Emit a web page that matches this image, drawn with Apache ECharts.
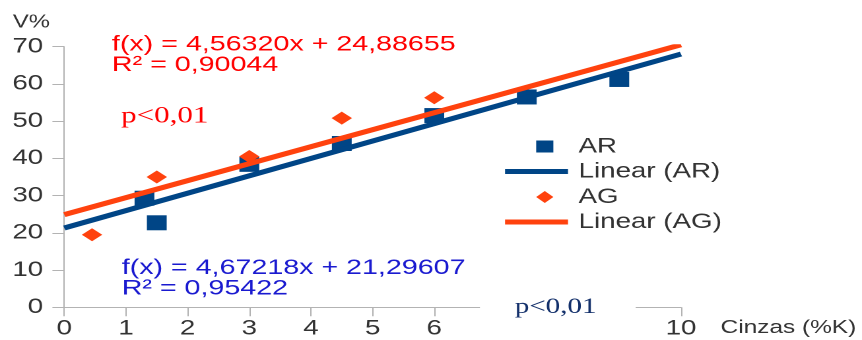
<!DOCTYPE html>
<html><head><meta charset="utf-8">
<script src="https://cdn.jsdelivr.net/npm/echarts@6/dist/echarts.min.js"></script>
<style>
html,body{margin:0;padding:0;background:#fff;overflow:hidden;width:862px;height:340px}
#c{position:absolute;left:0;top:0;height:340px;transform-origin:0 0;}
</style></head><body><div id="c"></div>
<script>
// ---- data ----
const xAxisTicks = [0, 10, 1];          // min, max, interval
const yAxisTicks = [0, 70, 10];
const arX = [1.3, 1.5, 3, 4.5, 6, 7.5, 9];
const arY = [29.3, 22.7, 38.4, 44.0, 51.5, 56.5, 61.2];
const agX = [0.45, 1.5, 3, 4.5, 6];
const agY = [19.5, 35.0, 40.5, 50.8, 56.3];
const trendX = [0, 10];
const linearAR = [21.29607, 68.01787];
const linearAG = [24.88655, 70.51855];
const seriesNames = ['AR', 'Linear (AR)', 'AG', 'Linear (AG)'];
const eqAG = ['f(x) = 4,56320x + 24,88655', 'R² = 0,90044'];
const eqAR = ['f(x) = 4,67218x + 21,29607', 'R² = 0,95422'];
const pText = 'p<0,01';
const xName = 'Cinzas (%K)';
const yName = 'V%';

// ---- layout ----
const S = 1.32;
const W = 862 / S;
const el = document.getElementById('c');
el.style.width = W + 'px';
el.style.transform = 'scaleX(' + S + ')';

const BLUE = '#004586', ORANGE = '#ff420e', AXIS = '#b3b3b3', TXT = '#333333';
const FONT = '"Liberation Sans", Arial, sans-serif';
const SERIF = '"Liberation Serif", "Times New Roman", serif';
const zip = (a, b) => a.map((v, i) => [v, b[i]]);
const legendText = {color: TXT, fontSize: 21, fontFamily: FONT, lineHeight: 20};

const chart = echarts.init(el, null, {renderer: 'canvas', devicePixelRatio: 2});
chart.setOption({
  animation: false,
  backgroundColor: '#fff',
  grid: {left: 48.7, right: W - 515.9, top: 46.7, bottom: 32.7, containLabel: false},
  xAxis: {
    type: 'value', min: xAxisTicks[0], max: xAxisTicks[1], interval: xAxisTicks[2],
    name: xName, nameLocation: 'end', nameGap: 30,
    nameTextStyle: {color: TXT, fontSize: 18.5, fontFamily: FONT, verticalAlign: 'top', padding: [11, 0, 0, 0]},
    axisLine: {show: true, onZero: false, lineStyle: {color: AXIS, width: 1}},
    axisTick: {show: true, inside: false, length: 9, lineStyle: {color: AXIS}},
    axisLabel: {color: TXT, fontSize: 21, fontFamily: FONT, margin: 11},
    splitLine: {show: false}
  },
  yAxis: {
    type: 'value', min: yAxisTicks[0], max: yAxisTicks[1], interval: yAxisTicks[2],
    name: yName, nameLocation: 'end', nameGap: 15,
    nameTextStyle: {color: TXT, fontSize: 18, fontFamily: FONT, align: 'right', padding: [0, 11, 0, 0]},
    axisLine: {show: true, lineStyle: {color: AXIS, width: 1}},
    axisTick: {show: true, inside: false, length: 9, lineStyle: {color: AXIS}},
    axisLabel: {color: TXT, fontSize: 21, fontFamily: FONT, margin: 16},
    splitLine: {show: false}
  },
  legend: [
    {
      orient: 'vertical', left: 406.2, top: 136, padding: 0,
      itemWidth: 13, itemHeight: 12, itemGap: 29.5, symbolKeepAspect: false,
      data: [{name: seriesNames[0], icon: 'rect'}, {name: seriesNames[2], icon: 'diamond'}],
      textStyle: Object.assign({padding: [0, 0, 0, 14]}, legendText)
    },
    {
      orient: 'vertical', left: 382.6, top: 161, padding: 0,
      itemWidth: 47.7, itemHeight: 5, itemGap: 29.5, symbolKeepAspect: false,
      data: [{name: seriesNames[1], icon: 'rect'}, {name: seriesNames[3], icon: 'rect'}],
      textStyle: Object.assign({padding: [0, 0, 0, 3]}, legendText)
    }
  ],
  series: [
    {name: seriesNames[0], type: 'scatter', symbol: 'rect', symbolSize: 15,
     itemStyle: {color: BLUE, opacity: 1}, data: zip(arX, arY), z: 2},
    {name: seriesNames[1], type: 'line', symbol: 'none', showSymbol: false,
     lineStyle: {color: BLUE, width: 5}, itemStyle: {color: BLUE},
     data: zip(trendX, linearAR), z: 3},
    {name: seriesNames[2], type: 'scatter', symbol: 'diamond', symbolSize: [15.5, 13],
     itemStyle: {color: ORANGE, opacity: 1}, data: zip(agX, agY), z: 4},
    {name: seriesNames[3], type: 'line', symbol: 'none', showSymbol: false,
     lineStyle: {color: ORANGE, width: 5}, itemStyle: {color: ORANGE},
     data: zip(trendX, linearAG), z: 5}
  ],
  graphic: [
    {type: 'text', left: 84.8, top: 33.5, z: 50,
     style: {text: eqAG.join('\n'), fill: '#ff0000', fontSize: 21.7, fontFamily: FONT, lineHeight: 20.5}},
    {type: 'text', left: 92.2, top: 257, z: 50,
     style: {text: eqAR.join('\n'), fill: '#1a1ad0', fontSize: 21.7, fontFamily: FONT, lineHeight: 20.5}},
    {type: 'text', left: 91.8, top: 104.5, z: 50,
     style: {text: pText, fill: '#ff0000', fontSize: 23.5, fontFamily: SERIF}},
    {type: 'rect', left: 363.6, top: 288, z: 60,
     shape: {width: 118, height: 47.5}, style: {fill: '#ffffff'}},
    {type: 'text', left: 390, top: 296, z: 61,
     style: {text: pText, fill: '#13306b', fontSize: 22, fontFamily: SERIF}}
  ]
});
</script></body></html>
